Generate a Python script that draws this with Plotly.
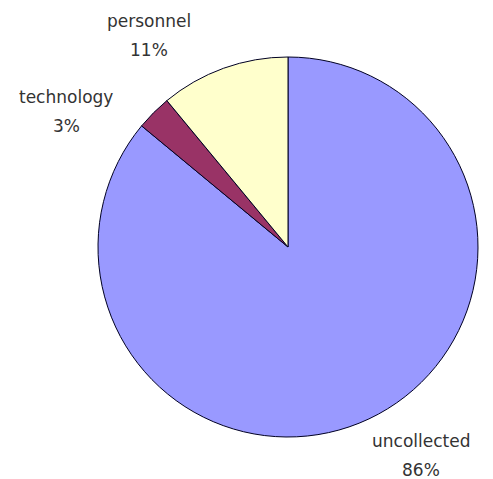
import plotly.graph_objects as go

labels = ["uncollected", "technology", "personnel"]
values = [86, 3, 11]
colors = ["#9999FF", "#993366", "#FFFFCC"]

# label anchor positions (pixels) for the text blocks
label_pos = {
    "personnel": (149, 21),
    "technology": (66, 97),
    "uncollected": (421, 441),
}

W, H = 493, 479
fig = go.Figure(go.Pie(
    labels=labels,
    values=values,
    sort=False,
    direction="clockwise",
    rotation=0,
    marker=dict(colors=colors, line=dict(color="#000022", width=1)),
    textinfo="none",
    hoverinfo="label+percent",
    domain=dict(x=[98 / W, 478 / W], y=[1 - 437 / H, 1 - 57 / H]),
    showlegend=False,
))

total = sum(values)
ann = []
for lab, v in zip(labels, values):
    px, py = label_pos[lab]
    pct = f"{round(100 * v / total)}%"
    for i, t in enumerate([lab, pct]):
        ann.append(dict(
            x=px / W, y=1 - (py + i * 29) / H, xref="paper", yref="paper",
            text=t, showarrow=False, xanchor="center", yanchor="middle",
            font=dict(family="DejaVu Sans", size=17, color="#333333"),
        ))

fig.update_layout(
    width=W, height=H,
    margin=dict(l=0, r=0, t=0, b=0),
    paper_bgcolor="white", plot_bgcolor="white",
    annotations=ann,
)
fig.write_html("out.html")
